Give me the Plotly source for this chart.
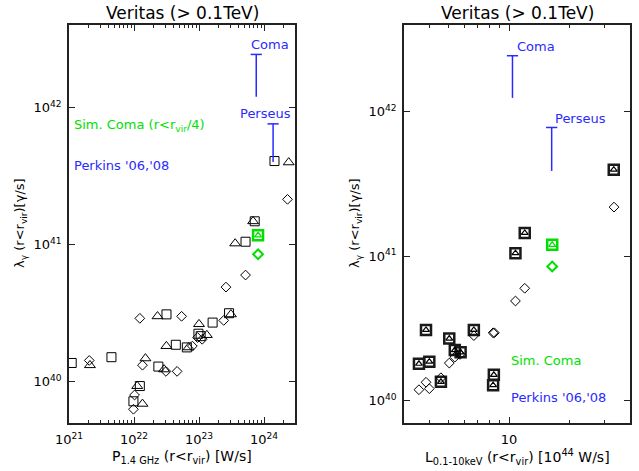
import math
import plotly.graph_objects as go

# ---------------- data: left panel (radio power vs gamma-ray luminosity) ----------------
radio_sq_P = [1.1e21, 4.5e21, 1.23e22, 9.8e21, 2.37e22, 3.16e22, 4.4e22, 6.5e22, 9.8e22,
              1.06e23, 1.62e23, 2.9e23, 5.2e23, 1.45e24, 7.2e23]
radio_sq_L = [1.37e40, 1.51e40, 9.3e39, 7.2e39, 1.29e40, 3.1e40, 1.86e40, 1.78e40, 2.24e40,
              2.15e40, 2.7e40, 3.16e40, 1.05e41, 4.07e41, 1.48e41]

radio_tr_P = [2.1e21, 1.5e22, 1.35e22, 1.12e22, 2.3e22, 3.15e22, 2.9e22, 6.9e22, 1.0e23,
              1.32e23, 3.1e23, 3.6e23, 2.4e24, 6.8e23]
radio_tr_L = [1.32e40, 1.48e40, 6.9e39, 9.3e39, 3.0e40, 1.82e40, 1.23e40, 1.78e40, 2.63e40,
              2.19e40, 3.1e40, 1.02e41, 3.98e41, 1.48e41]

radio_di_P = [2.05e21, 1.23e22, 1.35e22, 1.02e22, 9.8e21, 5.4e22, 3.1e22, 4.6e22, 7.9e22,
              9.5e22, 1.12e23, 2.4e23, 2.6e23, 5.2e23, 2.3e24]
radio_di_L = [1.43e40, 2.9e40, 1.32e40, 8.0e39, 6.3e39, 3.0e40, 1.19e40, 1.19e40, 1.82e40,
              2.1e40, 2.04e40, 2.8e40, 4.9e40, 6.0e40, 2.14e41]

sim_coma_P = [8.1e23]
sim_coma_L_box = [1.17e41]
sim_coma_L_di = [8.5e40]

# upper limits (Perkins '06, '08)
ul_names = ["Coma", "Perseus"]
ul_radio_P = [7.6e23, 1.38e24]
ul_radio_lo = [1.2e42, 4.0e41]
ul_radio_hi = [2.44e42, 7.6e41]

# ---------------- data: right panel (X-ray luminosity vs gamma-ray luminosity) ----------------
xray_box_L = [3.56, 3.86, 4.01, 4.58, 5.04, 5.37, 5.74, 6.68, 8.40, 8.33, 10.76, 11.97, 33.2]
xray_box_G = [1.80e40, 3.09e40, 1.86e40, 1.35e40, 2.69e40, 2.24e40, 2.16e40, 3.09e40,
              1.51e40, 1.28e40, 1.05e41, 1.45e41, 3.98e41]

xray_di_L = [3.56, 3.86, 4.01, 4.58, 5.04, 5.37, 5.7, 6.68, 8.33, 8.45, 10.76, 11.97, 33.3]
xray_di_G = [1.19e40, 1.34e40, 1.21e40, 1.44e40, 1.82e40, 2.0e40, 2.09e40, 2.82e40,
             2.95e40, 2.95e40, 4.9e40, 6.0e40, 2.19e41]

sim_coma_X = [16.4]
sim_coma_G_box = [1.2e41]
sim_coma_G_di = [8.5e40]

ul_xray_L = [10.4, 16.3]
ul_xray_lo = [1.25e42, 3.9e41]
ul_xray_hi = [2.45e42, 7.8e41]

# ---------------- styling ----------------
BLACK = "#000000"
GREEN = "#00e000"
BLUE = "#2a2aff"
AXC = "#222222"
FONT = "DejaVu Sans"

fig = go.Figure()


def open_marker(symbol, size, color=BLACK, width=1.0):
    return dict(symbol=symbol, size=size, color="rgba(0,0,0,0)",
                line=dict(color=color, width=width))


def add_limits(xs, lo, hi, xa, ya):
    for x, a, b in zip(xs, lo, hi):
        fig.add_trace(go.Scatter(x=[x, x], y=[a, b], mode="lines",
                                 line=dict(color=BLUE, width=1.5),
                                 xaxis=xa, yaxis=ya, showlegend=False, hoverinfo="skip"))
        fig.add_trace(go.Scatter(x=[x], y=[b], mode="markers",
                                 marker=dict(symbol="line-ew", size=8,
                                             line=dict(color=BLUE, width=1.5)),
                                 xaxis=xa, yaxis=ya, showlegend=False, hoverinfo="skip"))


SQ, TR, DI = 9, 9.5, 7.5

# left panel
fig.add_trace(go.Scatter(x=radio_sq_P, y=radio_sq_L, mode="markers",
                         marker=open_marker("square", SQ), xaxis="x", yaxis="y", showlegend=False))
fig.add_trace(go.Scatter(x=radio_tr_P, y=radio_tr_L, mode="markers",
                         marker=open_marker("triangle-up", TR), xaxis="x", yaxis="y", showlegend=False))
fig.add_trace(go.Scatter(x=radio_di_P, y=radio_di_L, mode="markers",
                         marker=open_marker("diamond", DI), xaxis="x", yaxis="y", showlegend=False))
fig.add_trace(go.Scatter(x=sim_coma_P, y=sim_coma_L_box, mode="markers",
                         marker=open_marker("square", 10, GREEN, 2.5), xaxis="x", yaxis="y", showlegend=False))
fig.add_trace(go.Scatter(x=sim_coma_P, y=sim_coma_L_box, mode="markers",
                         marker=open_marker("triangle-up", 6, GREEN, 1.2), xaxis="x", yaxis="y", showlegend=False))
fig.add_trace(go.Scatter(x=sim_coma_P, y=sim_coma_L_di, mode="markers",
                         marker=open_marker("diamond", DI, GREEN, 2), xaxis="x", yaxis="y", showlegend=False))
add_limits(ul_radio_P, ul_radio_lo, ul_radio_hi, "x", "y")

# right panel
fig.add_trace(go.Scatter(x=xray_box_L, y=xray_box_G, mode="markers",
                         marker=open_marker("square", 10, "#1a1a1a", 2.5), xaxis="x2", yaxis="y2", showlegend=False))
fig.add_trace(go.Scatter(x=xray_box_L, y=xray_box_G, mode="markers",
                         marker=open_marker("triangle-up", 6, BLACK, 1.2), xaxis="x2", yaxis="y2", showlegend=False))
fig.add_trace(go.Scatter(x=xray_di_L, y=xray_di_G, mode="markers",
                         marker=open_marker("diamond", DI), xaxis="x2", yaxis="y2", showlegend=False))
fig.add_trace(go.Scatter(x=sim_coma_X, y=sim_coma_G_box, mode="markers",
                         marker=open_marker("square", 10, GREEN, 2.5), xaxis="x2", yaxis="y2", showlegend=False))
fig.add_trace(go.Scatter(x=sim_coma_X, y=sim_coma_G_box, mode="markers",
                         marker=open_marker("triangle-up", 6, GREEN, 1.2), xaxis="x2", yaxis="y2", showlegend=False))
fig.add_trace(go.Scatter(x=sim_coma_X, y=sim_coma_G_di, mode="markers",
                         marker=open_marker("diamond", DI, GREEN, 2), xaxis="x2", yaxis="y2", showlegend=False))
add_limits(ul_xray_L, ul_xray_lo, ul_xray_hi, "x2", "y2")

W, H = 639, 471
LEFT_DOM = [69 / W, 295 / W]
RIGHT_DOM = [404 / W, 630 / W]
Y_DOM = [1 - 423 / H, 1 - 25 / H]

tickfont = dict(family=FONT, size=13, color=BLACK)
common = dict(type="log", showgrid=False, zeroline=False, showline=True, linecolor=AXC,
              linewidth=1.5, mirror="ticks", ticks="inside", tickcolor=AXC, tickwidth=1,
              tickfont=tickfont, automargin=False)

radio_major = [1e21, 1e22, 1e23, 1e24]
radio_minor = [m * 10.0 ** e for e in range(21, 25) for m in range(2, 10) if m * 10.0 ** e <= 3e24]
gamma_major = [1e40, 1e41, 1e42]
xray_major = [10]
xray_minor = [4, 5, 6, 7, 8, 9, 20, 30]


def sci(v):
    return "10<sup>%d</sup>" % round(math.log10(v))


fig.update_layout(
    width=W, height=H, margin=dict(l=0, r=0, t=0, b=0, autoexpand=False),
    paper_bgcolor="white", plot_bgcolor="white",
    xaxis=dict(domain=LEFT_DOM, anchor="y", range=[21, 24.477], tickmode="array",
               tickvals=radio_major, ticktext=[sci(v) for v in radio_major], ticklen=6,
               ticklabelstandoff=4,
               minor=dict(tickmode="array", tickvals=radio_minor, ticks="inside", ticklen=3,
                          tickcolor=AXC, showgrid=False),
               **common),
    yaxis=dict(domain=Y_DOM, anchor="x", range=[39.699, 42.602], tickmode="array",
               tickvals=gamma_major, ticktext=[sci(v) for v in gamma_major], ticklen=6,
               ticklabelstandoff=3, **common),
    xaxis2=dict(domain=RIGHT_DOM, anchor="y2", range=[0.4771, 1.602], tickmode="array",
                tickvals=xray_major, ticktext=["10"], ticklen=6, ticklabelstandoff=4,
                minor=dict(tickmode="array", tickvals=xray_minor, ticks="inside", ticklen=3,
                           tickcolor=AXC, showgrid=False),
                **common),
    yaxis2=dict(domain=Y_DOM, anchor="x2", range=[39.845, 42.602], tickmode="array",
                tickvals=gamma_major, ticktext=[sci(v) for v in gamma_major], ticklen=6,
                ticklabelstandoff=3, **common),
)

ann = []


def text(x, y, s, size=13, color=BLACK, xanchor="center", angle=0):
    ann.append(dict(x=x / W, y=1 - y / H, xref="paper", yref="paper", text=s, showarrow=False,
                    xanchor=xanchor, yanchor="middle", textangle=angle,
                    font=dict(family=FONT, size=size, color=color)))


title = "Veritas (&gt; 0.1TeV)"
text(182, 13, title, size=17)
text(517, 13, title, size=17)

ylab = "λ<sub>γ</sub> (r&lt;r<sub>vir</sub>)[γ/s]"
text(20, 223, ylab, size=13, angle=-90)
text(355, 223, ylab, size=13, angle=-90)

text(182, 457, "P<sub>1.4 GHz</sub> (r&lt;r<sub>vir</sub>) [W/s]", size=14)
text(517, 457, "L<sub>0.1-10keV</sub> (r&lt;r<sub>vir</sub>) [10<sup>44</sup> W/s]", size=14)

# left panel labels
text(270, 45, "Coma", color=BLUE)
text(265, 114, "Perseus", color=BLUE)
text(72, 126, "Sim. Coma (r&lt;r<sub>vir</sub>/4)", color=GREEN, xanchor="left")
text(72, 166, "Perkins '06,'08", color=BLUE, xanchor="left")

# right panel labels
text(515, 47, "Coma", color=BLUE, xanchor="left")
text(553, 119, "Perseus", color=BLUE, xanchor="left")
text(509, 360, "Sim. Coma", color=GREEN, xanchor="left")
text(509, 397, "Perkins '06,'08", color=BLUE, xanchor="left")

fig.update_layout(annotations=ann)

fig.write_html("out.html")
